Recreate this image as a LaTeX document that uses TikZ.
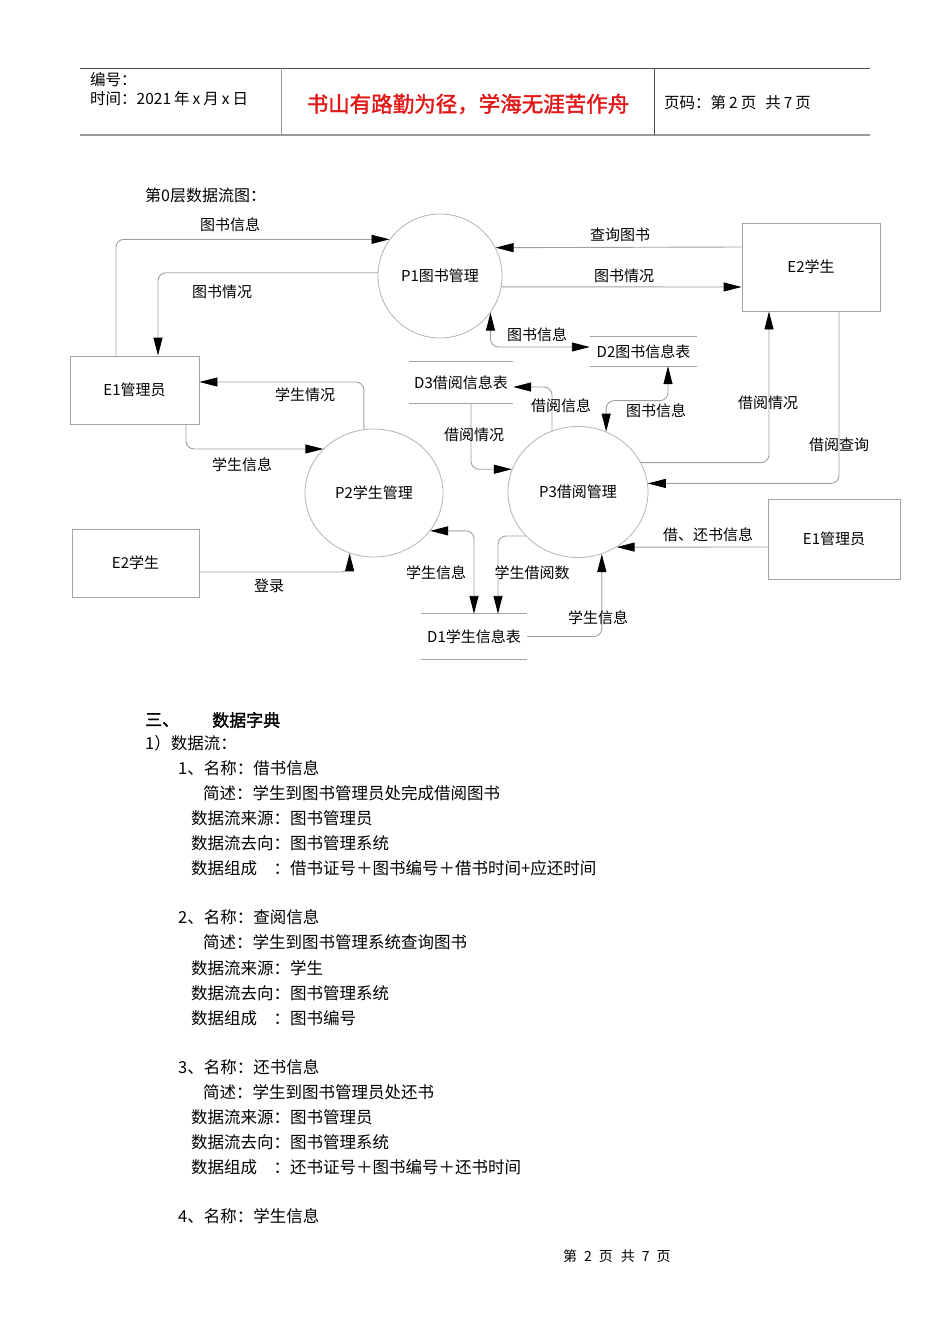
\documentclass[tikz,border=0pt]{standalone}
\usepackage{fontspec}
\setmainfont{Noto Sans CJK SC}[AutoFakeBold=1.6]
\usetikzlibrary{arrows.meta,shapes.geometric}
\definecolor{linegray}{HTML}{A0A0A0}
\definecolor{circgray}{HTML}{B4B4B4}
\definecolor{boxgray}{HTML}{A4A4A4}
\definecolor{redtxt}{HTML}{E01818}
\tikzset{
  tip/.tip={Triangle[length=18pt,width=9pt,color=black]},
  flow/.style={draw=linegray, line width=0.9pt, rounded corners=8pt, -tip},
  flowboth/.style={draw=linegray, line width=0.9pt, rounded corners=8pt, tip-tip},
  entbox/.style={draw=boxgray, line width=0.9pt, rectangle, inner sep=0pt, font=\fontsize{15}{18}\selectfont},
  procc/.style={draw=circgray, line width=0.8pt, ellipse, inner sep=0pt, font=\fontsize{15}{18}\selectfont},
  store/.style={inner sep=0pt, font=\fontsize{15}{18}\selectfont},
  lbl/.style={inner sep=0pt, font=\fontsize{15}{18}\selectfont},
  body/.style={anchor=west, inner sep=0pt, font=\fontsize{16.5}{20}\selectfont},
  hdr/.style={anchor=west, inner sep=0pt, font=\fontsize{15.5}{18}\selectfont},
}
\begin{document}
\begin{tikzpicture}[x=1pt,y=-1pt]
\useasboundingbox[fill=white] (0,0) rectangle (950,1344);

% header
\draw[draw=black!70, line width=0.9pt] (80,68) -- (870,68);
\draw[draw=black!40, line width=2.2pt] (80,135) -- (870,135);
\draw[draw=black!40, line width=0.9pt] (281,68) -- (281,135);
\draw[draw=black!70, line width=0.9pt] (654,68) -- (654,135);
\node[hdr] (h1) at (90,80) {编号：};
\node[hdr] (h2) at (90,99) {时间：2021\hspace{3pt}年\hspace{3pt}x\hspace{3pt}月\hspace{3pt}x\hspace{3pt}日};
\node[inner sep=0pt, text=redtxt, font=\fontsize{21.5}{24}\selectfont\bfseries] (motto) at (468,104) {书山有路勤为径，学海无涯苦作舟};
\node[hdr] (h3) at (664,103) {页码：第\hspace{3pt}2\hspace{3pt}页\hspace{9pt}共\hspace{3pt}7\hspace{3pt}页};

\node[body, font=\fontsize{16}{20}\selectfont] (title) at (145,195) {第0层数据流图：};

% entities
\node[entbox, minimum width=129, minimum height=68] (E1a) at (134.5,390) {E1管理员};
\node[entbox, minimum width=138, minimum height=88] (E2a) at (811,267) {E2学生};
\node[entbox, minimum width=127, minimum height=68] (E2b) at (135.5,563) {E2学生};
\node[entbox, minimum width=132, minimum height=80] (E1b) at (834,539) {E1管理员};

% processes
\node[procc, minimum width=124, minimum height=124] (P1) at (440,276) {P1图书管理};
\node[procc, minimum width=138, minimum height=128] (P2) at (374,493) {P2学生管理};
\node[procc, minimum width=140, minimum height=131] (P3) at (578,492) {P3借阅管理};

% data stores
\node[store, minimum width=107, minimum height=29] (D2) at (643.5,351.5) {D2图书信息表};
\node[store, minimum width=104, minimum height=41] (D3) at (461,382.5) {D3借阅信息表};
\node[store, minimum width=106, minimum height=45] (D1) at (474,636.5) {D1学生信息表};
\foreach \d in {D1,D2,D3}{
  \draw[draw=boxgray, line width=0.9pt] (\d.north west) -- (\d.north east);
  \draw[draw=boxgray, line width=0.9pt] (\d.south west) -- (\d.south east);
}

% flows
\draw[flow] ([xshift=-18.5pt]E1a.north) |- (P1.144.5);
\draw[flow] (P1.177) -| ([xshift=23.5pt]E1a.north);
\draw[flow] ([yshift=20pt]E2a.west) -- (P1.27.9);
\draw[flow] (P1.-10.2) -- ([yshift=-20pt]E2a.west);
\draw[flowboth] (P1.-36.3) |- ([yshift=4.5pt]D2.west);
\draw[flowboth] (P3.65.9) -- ++(0,-31) -| ([xshift=24.5pt]D2.south);
\draw[flow] (P3.113.2) |- ([yshift=-4.5pt]D3.east);
\draw[flow] ([xshift=10pt]D3.south) |- (P3.161.5);
\draw[flow] (P3.25.7) -| ([xshift=-42pt]E2a.south);
\draw[flow] ([xshift=28pt]E2a.south) |- (P3.7.4);
\draw[flow] ([yshift=-8pt]E1b.west) -- (P3.-55.4);
\draw[flow] (D1.east) -| (P3.-69.6);
\draw[flow] (P3.220.3) -| ([xshift=24pt]D1.north);
\draw[flowboth] (P2.-34.4) -| (D1.north);
\draw[flow] (P2.99) |- ([yshift=8pt]E1a.east);
\draw[flow] ([xshift=51.5pt]E1a.south) |- (P2.139.9);
\draw[flow] ([yshift=-9pt]E2b.east) -| (P2.248.2);

% flow labels
\node[lbl] (l1) at (230,225) {图书信息};
\node[lbl] (l2) at (222,292) {图书情况};
\node[lbl] (l3) at (620,235) {查询图书};
\node[lbl] (l4) at (624,276) {图书情况};
\node[lbl] (l5) at (537,335) {图书信息};
\node[lbl] (l6) at (656,411) {图书信息};
\node[lbl] (l7) at (561,406) {借阅信息};
\node[lbl] (l8) at (474,435) {借阅情况};
\node[lbl] (l9) at (768,403) {借阅情况};
\node[lbl] (l10) at (839,445) {借阅查询};
\node[lbl] (l11) at (708,535) {借、还书信息};
\node[lbl] (l12) at (598,618) {学生信息};
\node[lbl] (l13) at (532,573) {学生借阅数};
\node[lbl] (l14) at (436,573) {学生信息};
\node[lbl] (l15) at (305,395) {学生情况};
\node[lbl] (l16) at (242,465) {学生信息};
\node[lbl] (l17) at (269,586) {登录};

% data dictionary
\node[body, font=\fontsize{17}{20}\selectfont\bfseries] (s3) at (145,720) {三、};
\node[body, font=\fontsize{17}{20}\selectfont\bfseries] (s3b) at (212,720) {数据字典};
\node[body] (t1) at (145,743) {1）数据流：};
\node[body] (a1) at (178,768) {1、名称：借书信息};
\node[body] (a2) at (203,793) {简述：学生到图书管理员处完成借阅图书};
\node[body] (a3) at (191,818) {数据流来源：图书管理员};
\node[body] (a4) at (191,843) {数据流去向：图书管理系统};
\node[body] (a5) at (191,868) {数据组成　：借书证号＋图书编号＋借书时间+应还时间};
\node[body] (b1) at (178,917) {2、名称：查阅信息};
\node[body] (b2) at (203,942) {简述：学生到图书管理系统查询图书};
\node[body] (b3) at (191,968) {数据流来源：学生};
\node[body] (b4) at (191,993) {数据流去向：图书管理系统};
\node[body] (b5) at (191,1018) {数据组成　：图书编号};
\node[body] (c1) at (178,1067) {3、名称：还书信息};
\node[body] (c2) at (203,1092) {简述：学生到图书管理员处还书};
\node[body] (c3) at (191,1117) {数据流来源：图书管理员};
\node[body] (c4) at (191,1142) {数据流去向：图书管理系统};
\node[body] (c5) at (191,1167) {数据组成　：还书证号＋图书编号＋还书时间};
\node[body] (d1) at (178,1216) {4、名称：学生信息};
\node[body, font=\fontsize{14}{16}\selectfont] (foot) at (563,1256) {第\hspace{7pt}2\hspace{7pt}页\hspace{8pt}共\hspace{7pt}7\hspace{7pt}页};
\end{tikzpicture}
\end{document}
